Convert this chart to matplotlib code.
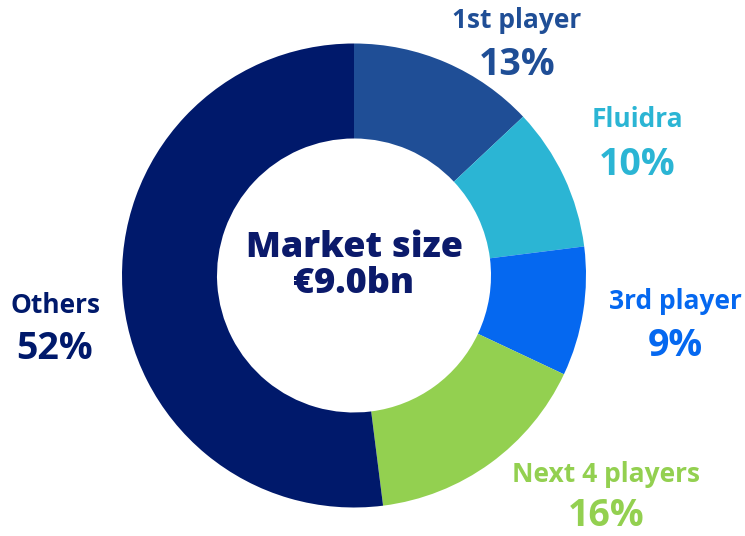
import matplotlib.pyplot as plt

players = ['1st player', 'Fluidra', '3rd player', 'Next 4 players', 'Others']
shares = [13, 10, 9, 16, 52]
market_size = '€9.0bn'

colors = ['#1f4e96', '#2bb5d4', '#0568f0', '#93d050', '#00196b']

W, H = 745, 536
# label anchor points (pixels from top-left): name baseline, percent baseline
label_xy = [(517, 28, 75), (637, 127, 175), (675, 309, 356),
            (606, 482, 526), (55, 313, 359)]

plt.rcParams['font.family'] = ['Open Sans', 'DejaVu Sans']

fig = plt.figure(figsize=(W / 100, H / 100), dpi=100)
ax = fig.add_axes([0, 0, 1, 1])

cx, cy, r_out, r_in = 354, H - 275.5, 232, 137
ax.pie(shares, colors=colors, startangle=90, counterclock=False,
       center=(cx, cy), radius=r_out, frame=True,
       wedgeprops=dict(width=r_out - r_in, linewidth=0))
ax.set_xlim(0, W)
ax.set_ylim(0, H)
ax.set_aspect('equal')
ax.axis('off')

for name, val, col, (x, yn, yp) in zip(players, shares, colors, label_xy):
    ax.text(x, H - yn, name, color=col, fontsize=19, fontweight='bold',
            ha='center', va='baseline')
    ax.text(x, H - yp, f'{val}%', color=col, fontsize=27, fontweight='bold',
            ha='center', va='baseline')

ax.text(355, H - 257, 'Market size', color='#0b1a6b', fontsize=26,
        fontweight='heavy', ha='center', va='baseline')
ax.text(354, H - 293, market_size, color='#0b1a6b', fontsize=26,
        fontweight='heavy', ha='center', va='baseline')

fig.savefig('out.png', dpi=100, facecolor='white')
